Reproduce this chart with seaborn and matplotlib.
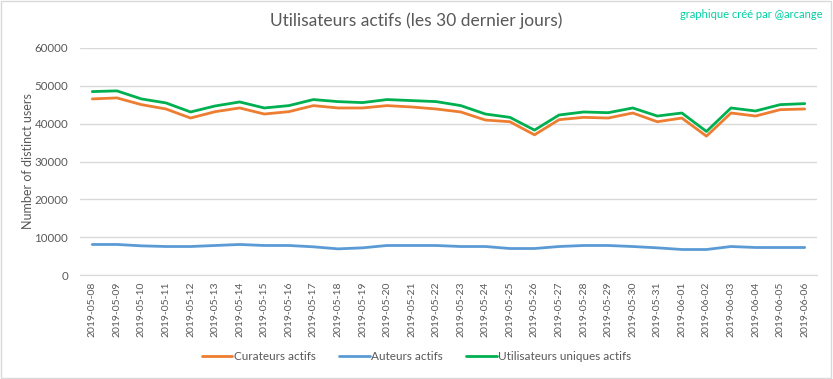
import matplotlib
matplotlib.use("Agg")
import matplotlib.pyplot as plt
import numpy as np
import pandas as pd
import seaborn as sns

dates = pd.date_range("2019-05-08", "2019-06-06").strftime("%Y-%m-%d").tolist()

curateurs = [46540, 46810, 45030, 43880, 41490, 43170, 44150, 42550, 43170, 44770,
             44150, 44150, 44770, 44410, 43880, 43090, 40960, 40510, 37050, 41050,
             41670, 41490, 42820, 40510, 41490, 36700, 42820, 42020, 43700, 43880]
auteurs = [8070, 8070, 7710, 7530, 7530, 7800, 8070, 7800, 7800, 7450,
           6910, 7180, 7800, 7800, 7800, 7530, 7530, 7000, 7000, 7530,
           7800, 7800, 7530, 7180, 6740, 6740, 7530, 7270, 7270, 7270]
uniques = [48480, 48670, 46540, 45480, 43090, 44680, 45740, 44150, 44770, 46370,
           45830, 45570, 46370, 46100, 45830, 44770, 42550, 41670, 38300, 42290,
           43090, 42900, 44150, 42020, 42820, 37940, 44150, 43350, 45030, 45300]

series = ["Curateurs actifs", "Auteurs actifs", "Utilisateurs uniques actifs"]
colors = ["#ED7D31", "#5B9BD5", "#00B050"]

df = pd.DataFrame({"date": dates * 3,
                   "users": curateurs + auteurs + uniques,
                   "serie": np.repeat(series, len(dates))})
df["pos"] = np.tile(np.arange(len(dates)), 3)

sns.set_style("white")
plt.rcParams["font.family"] = ["Lato", "DejaVu Sans"]

fig = plt.figure(figsize=(8.33, 3.79), dpi=100)
ax = fig.add_axes([80 / 833, 1 - 275 / 379, 737 / 833, 227 / 379])

sns.lineplot(data=df, x="pos", y="users", hue="serie", palette=colors,
             hue_order=series, linewidth=2, ax=ax, legend=False)

ax.set_xlim(-0.5, len(dates) - 0.5)
ax.set_ylim(0, 60000)
ax.set_yticks(range(0, 60001, 10000))
ax.set_xticks(range(len(dates)))
ax.set_xticklabels(dates, rotation=90, fontsize=7.5, color="#595959")
ax.tick_params(axis="y", labelsize=8.3, labelcolor="#595959", length=0, pad=8.5)
ax.tick_params(axis="x", length=0, pad=5)
ax.yaxis.grid(True, color="#D9D9D9", linewidth=1)
for s in ["top", "right", "left"]:
    ax.spines[s].set_visible(False)
ax.spines["bottom"].set_color("#D9D9D9")
ax.set_xlabel("")
ax.set_ylabel("Number of distinct users", fontsize=9, color="#595959")
ax.yaxis.set_label_coords(-0.063, 0.5)

fig.text(0.5, 1 - 21 / 379, "Utilisateurs actifs (les 30 dernier jours)",
         ha="center", va="center", fontsize=12.5, color="#595959")
fig.text(823 / 833, 1 - 15 / 379, "graphique créé par @arcange",
         ha="right", va="center", fontsize=8, color="#00D0A0")

handles = [plt.Line2D([], [], color=c, linewidth=2) for c in colors]
fig.legend(handles, series, loc="center", bbox_to_anchor=(0.5, 1 - 357 / 379),
           ncol=3, frameon=False, fontsize=8.5, labelcolor="#595959",
           handlelength=2.6, handletextpad=0.1, columnspacing=2.0)

fig.patches.append(plt.Rectangle((0.001, 0.002), 0.997, 0.995, transform=fig.transFigure,
                                 fill=False, edgecolor="#D9D9D9", linewidth=1))

fig.savefig("out.png", dpi=100)
